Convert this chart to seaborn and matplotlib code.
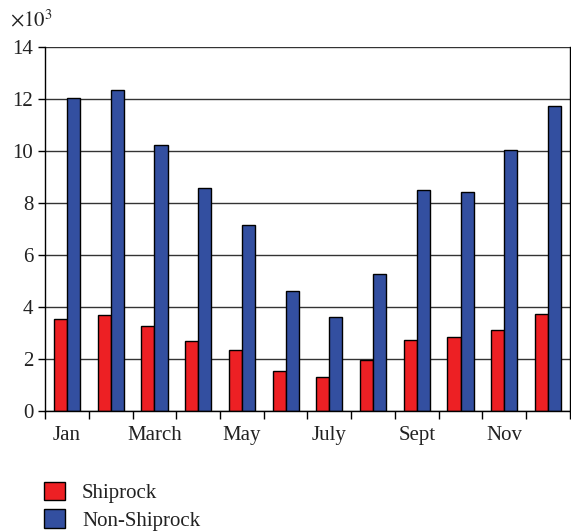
import numpy as np
import pandas as pd
import matplotlib
matplotlib.use("Agg")
import matplotlib.pyplot as plt
import seaborn as sns
from matplotlib.patches import Patch

# data (x10^3)
months = ["Jan", "Feb", "March", "Apr", "May", "June",
          "July", "Aug", "Sept", "Oct", "Nov", "Dec"]
shiprock = [3.55, 3.70, 3.25, 2.68, 2.35, 1.55, 1.30, 1.97, 2.73, 2.83, 3.12, 3.72]
non_shiprock = [12.02, 12.35, 10.22, 8.58, 7.15, 4.60, 3.62, 5.28, 8.50, 8.43, 10.05, 11.72]
shown_labels = ["Jan", "March", "May", "July", "Sept", "Nov"]

df = pd.DataFrame({
    "Month": months * 2,
    "Value": shiprock + non_shiprock,
    "Series": ["Shiprock"] * 12 + ["Non-Shiprock"] * 12,
})

sns.set_style("white")
plt.rcParams["font.family"] = ["Liberation Serif", "DejaVu Serif"]

colors = {"Shiprock": "#ED2024", "Non-Shiprock": "#334FA0"}

fig = plt.figure(figsize=(5.71, 5.31), dpi=100)
ax = fig.add_axes([0.079, 0.226, 0.919, 0.686])

sns.barplot(data=df, x="Month", y="Value", hue="Series", order=months,
            hue_order=["Shiprock", "Non-Shiprock"], palette=colors, saturation=1,
            width=0.6, edgecolor="black", linewidth=1.0, legend=False, ax=ax)

ax.set_xlim(-0.5, 11.5)
ax.set_ylim(0, 14)
ax.set_yticks(np.arange(0, 15, 2))
ax.yaxis.grid(True, color="#333333", linewidth=1.0)
ax.set_axisbelow(True)

# boundary ticks with labels at centers of odd months
ax.set_xticks(np.arange(-0.5, 12, 1))
ax.set_xticklabels([])
centers = [months.index(m) for m in shown_labels]
ax.set_xticks(centers, minor=True)
ax.set_xticklabels(shown_labels, minor=True)
ax.tick_params(axis="x", which="major", direction="out", length=6, width=1, color="black", bottom=True)
ax.tick_params(axis="x", which="minor", length=0, labelsize=15, pad=11, colors="#222222")
ax.tick_params(axis="y", direction="out", length=5, width=1, color="black", left=True,
               labelsize=15, colors="#222222")

ax.set_xlabel("")
ax.set_ylabel("")
ax.spines["top"].set_visible(False)
for side in ["left", "bottom", "right"]:
    ax.spines[side].set_color("black")
    ax.spines[side].set_linewidth(1.0)

fig.text(0.018, 0.95, r"$\times 10^3$", fontsize=15, color="#222222",
         family="serif", math_fontfamily="stix")

handles = [Patch(facecolor=colors[k], edgecolor="black", label=k)
           for k in ["Shiprock", "Non-Shiprock"]]
fig.legend(handles=handles, loc="lower left", bbox_to_anchor=(0.045, -0.035),
           frameon=False, fontsize=15, handlelength=1.0, handleheight=1.0,
           labelspacing=0.3, handletextpad=0.8, labelcolor="#222222")

fig.savefig("out.png", dpi=100)
